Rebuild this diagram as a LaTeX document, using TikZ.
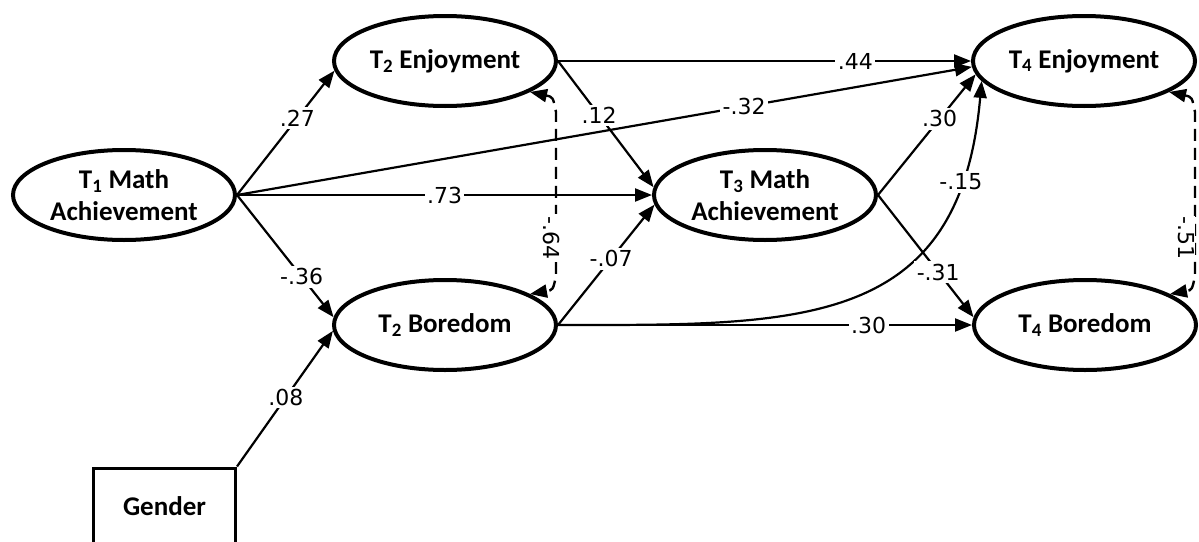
\documentclass[tikz,border=0pt]{standalone}
\usepackage{fontspec}
\setmainfont{Carlito}
\newfontfamily\labfont{DejaVu Sans}
\usetikzlibrary{arrows.meta,shapes.geometric}
\begin{document}
\begin{tikzpicture}[x=1pt,y=-1pt,
  latent/.style={ellipse,draw,line width=4pt,minimum width=222pt,minimum height=90pt,
    inner sep=0pt,align=center,font=\bfseries\fontsize{27}{32}\selectfont},
  observed/.style={rectangle,draw,line width=3pt,minimum width=142pt,minimum height=76pt,
    inner sep=0pt,font=\bfseries\fontsize{27}{32}\selectfont},
  regr/.style={line width=2.2pt,-{Triangle[length=17pt,width=13pt]}},
  cov/.style={line width=2.4pt,dash pattern=on 12pt off 7pt,
    {Triangle[length=17pt,width=13pt]}-{Triangle[length=17pt,width=13pt]}},
  coef/.style={fill=white,inner sep=2.5pt,font=\labfont\fontsize{22}{26}\selectfont}
]
\useasboundingbox (0,0) rectangle (1199,541);

% constructs
\node[latent] (T1)  at (124,195)  {T\textsubscript{1} Math\\Achievement};
\node[latent] (T2E) at (445,61)   {T\textsubscript{2} Enjoyment};
\node[latent] (T2B) at (445,325)  {T\textsubscript{2} Boredom};
\node[latent] (T3)  at (765,195)  {T\textsubscript{3} Math\\Achievement};
\node[latent] (T4E) at (1084,61)  {T\textsubscript{4} Enjoyment};
\node[latent] (T4B) at (1085,325) {T\textsubscript{4} Boredom};
\node[observed] (G) at (164.5,506) {Gender};

% bends of the residual covariances
\coordinate (c64a) at (556,112);
\coordinate (c64b) at (556,276);
\coordinate (c51a) at (1195,112);
\coordinate (c51b) at (1195,276);

% paths from T1
\draw[regr] (T1.east) -- node[coef,pos=.62]{.27} (T2E.185);
\draw[regr] (T1.east) -- node[coef,pos=.69]{-.32} (T4E.183);
\draw[regr] (T1.east) -- node[coef,pos=.5]{.73} (T3.west);
\draw[regr] (T1.east) -- node[coef,pos=.67]{-.36} (T2B.176);
\draw[regr] (G.north east) -- node[coef,pos=.51]{.08} (T2B.183);

% paths from T2
\draw[regr] (T2E.east) -- node[coef,pos=.72]{.44} (T4E.west);
\draw[regr] (T2E.east) -- node[coef,pos=.43]{.12} (T3.176);
\draw[regr] (T2B.east) -- node[coef,pos=.55]{-.07} (T3.185);
\draw[regr] (T2B.east) -- node[coef,pos=.75]{.30} (T4B.west);
\draw[regr] (T2B.east) .. controls (800,325) and (960,330) .. node[coef,pos=.84]{-.15} (T4E.191);

% paths from T3
\draw[regr] (T3.east) -- node[coef,pos=.63]{.30} (T4E.187);
\draw[regr] (T3.east) -- node[coef,pos=.63]{-.31} (T4B.176);

% residual covariances
\draw[cov] (T2E.-20) .. controls (553,97) .. (c64a) -- node[coef,pos=.77,xshift=-4pt,rotate=-90]{-.64} (c64b) .. controls (553,290) .. (T2B.20);
\draw[cov] (T4E.-20) .. controls (1192,97) .. (c51a) -- node[coef,pos=.77,xshift=-9pt,rotate=-90,inner sep=1pt]{-.51} (c51b) .. controls (1192,290) .. (T4B.20);
\end{tikzpicture}
\end{document}
